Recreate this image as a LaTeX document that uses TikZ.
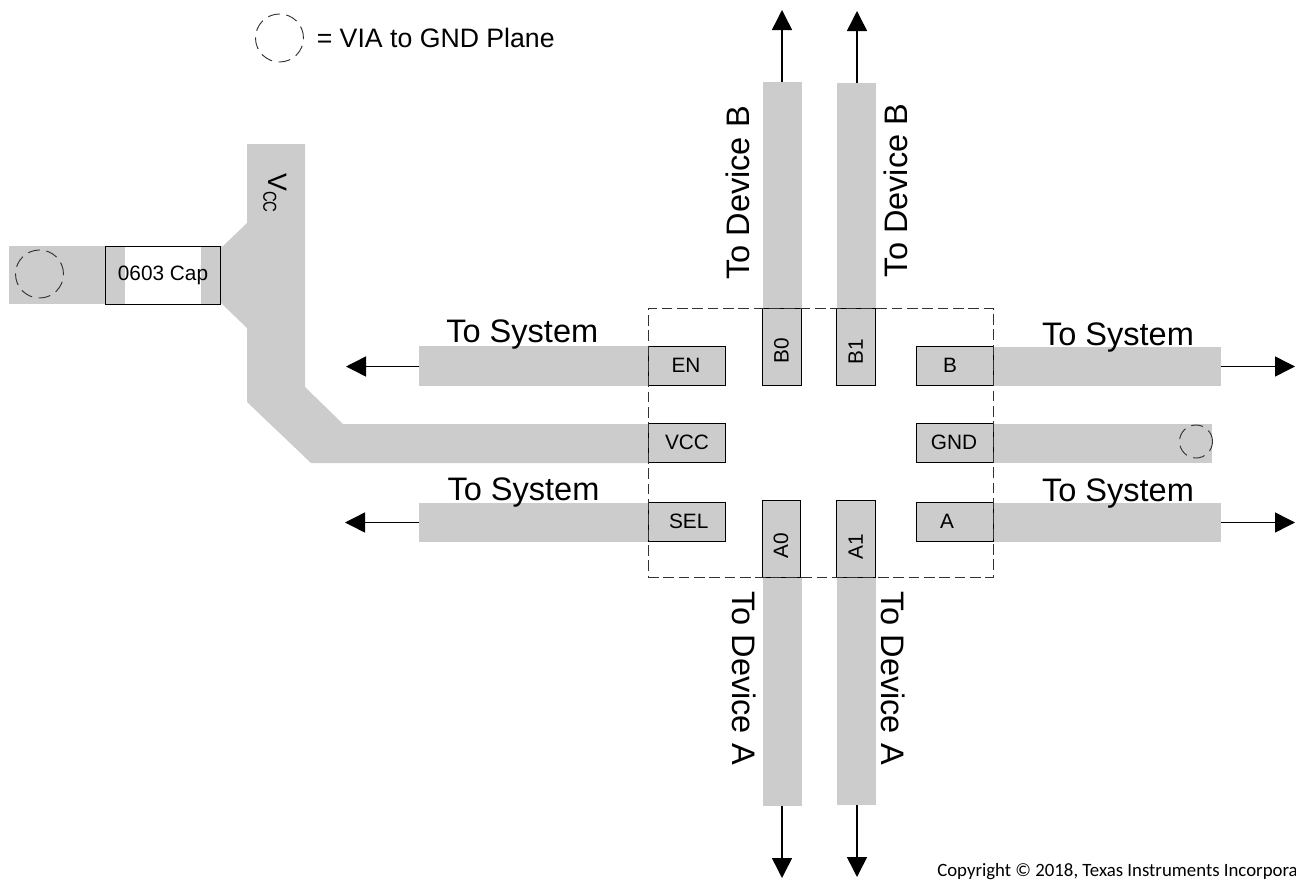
\documentclass[tikz,border=0pt]{standalone}
\usepackage{fontspec}
\setmainfont{Liberation Sans}
\newfontfamily\copyfont{Carlito}
\usetikzlibrary{arrows.meta}
\definecolor{traceGray}{HTML}{CCCCCC}
\def\px{0.75pt}

\tikzset{
	trace/.style={fill=traceGray, inner sep=0pt, outer sep=0pt},
	pinbox/.style={draw=black, line width=0.7pt, fill=traceGray, inner sep=0pt, outer sep=0pt},
	pintext/.style={font=\fontsize{15.6pt}{18pt}\selectfont, inner sep=0pt},
	bigtext/.style={font=\fontsize{24.4pt}{28pt}\selectfont, inner sep=0pt},
	via/.style={circle, draw=black!80, line width=0.7pt, dash pattern=on 9pt off 5pt, inner sep=0pt},
	outflow/.style={draw=black, line width=1.1pt, -{Triangle[length=15pt, width=15pt]}},
}

\begin{document}
\begin{tikzpicture}[x=\px, y=-\px]
	\useasboundingbox (0,0) rectangle (1296,882);

	% supply trace
	\fill [traceGray] (247,144) -- (305,144) -- (305,387) -- (343,424) -- (648,424) -- (648,463)
		-- (311,463) -- (247,402) -- (247,328) -- (221,303) -- (221,246) -- (223,246) -- (247,223) -- cycle;

	% long traces
	\foreach \nm/\xc/\yc/\boxW/\boxH in {trEN/533.5/366/229/40, trSEL/533.5/522.5/229/39,
			trB/1107/366.5/228/39, trA/1107/522.5/228/39, trGND/1102.5/443.5/219/39,
			trBzero/782.5/195.5/39/227, trBone/856.5/196/39/226,
			trAzero/782.5/691.5/39/229, trAone/856.5/691/39/228} {
		\node [trace, minimum width=\boxW*\px, minimum height=\boxH*\px] (\nm) at (\xc,\yc) {};
	}
	\node [trace, minimum width=96*\px, minimum height=58*\px] (trCap) at (57,275) {};

	% capacitor
	\node [fill=white, inner sep=0pt, minimum width=115*\px, minimum height=58*\px] (capBody) at (163,275) {};
	\node [trace, minimum width=19.5*\px, minimum height=58*\px] (padL) at (115.5,275) {};
	\node [trace, minimum width=19.5*\px, minimum height=58*\px] (padR) at (210.5,275) {};
	\node [draw=black, line width=0.7pt, inner sep=0pt, minimum width=115*\px, minimum height=58*\px, pintext] (cap) at (163,275) {0603 Cap};

	% pins
	\foreach \nm/\xc/\yc/\lx in {EN/686.5/366.2/686, VCC/686.5/443.2/687, SEL/686.5/522.2/688.7,
			B/954.5/366.2/950, GND/954.5/443.2/954, A/954.5/522.2/947} {
		\node [pinbox, minimum width=77*\px, minimum height=38.5*\px] (pin\nm) at (\xc,\yc) {};
		\node [pintext] (lbl\nm) at (\lx,\yc-0.5) {\nm};
	}
	\foreach \nm/\xc/\yc/\ly in {B0/782/347.2/351, B1/856.2/347.2/352, A0/781.5/538.5/546, A1/856.2/538.5/547} {
		\node [pinbox, minimum width=38.5*\px, minimum height=77*\px] (pin\nm) at (\xc,\yc) {};
		\node [pintext, rotate=90] (lbl\nm) at (\xc-0.5,\ly) {\nm};
	}

	% package outline
	\node [draw=black!80, line width=0.7pt, dash pattern=on 8pt off 3.5pt, inner sep=0pt,
		minimum width=345.5*\px, minimum height=268.5*\px] (pkg) at (820.75,442.75) {};

	% vias
	\node [via, minimum size=48*\px] (viaKey) at (279.5,38) {};
	\node [via, minimum size=48*\px] (viaCap) at (39.5,274) {};
	\node [via, minimum size=33*\px] (viaGND) at (1196,441.5) {};

	% arrows
	\coordinate (endEN) at (346,366.5);
	\coordinate (endSEL) at (345,522.5);
	\coordinate (endB) at (1295,366.5);
	\coordinate (endA) at (1295,522.5);
	\coordinate (endBzero) at (782,10);
	\coordinate (endBone) at (857,11);
	\coordinate (endAzero) at (782,878);
	\coordinate (endAone) at (857,877);
	\draw [outflow] (trEN.west |- endEN) -- (endEN);
	\draw [outflow] (trSEL.west |- endSEL) -- (endSEL);
	\draw [outflow] (trB.east |- endB) -- (endB);
	\draw [outflow] (trA.east |- endA) -- (endA);
	\draw [outflow] (trBzero.north -| endBzero) -- (endBzero);
	\draw [outflow] (trBone.north -| endBone) -- (endBone);
	\draw [outflow] (trAzero.south -| endAzero) -- (endAzero);
	\draw [outflow] (trAone.south -| endAone) -- (endAone);

	% labels
	\node [bigtext] (sysEN) at (522.3,335) {To System};
	\node [bigtext] (sysSEL) at (523.5,492.5) {To System};
	\node [bigtext] (sysB) at (1118,338) {To System};
	\node [bigtext] (sysA) at (1118,493.5) {To System};
	\node [bigtext, rotate=90] (devBzero) at (738.3,193) {To Device B};
	\node [bigtext, rotate=90] (devBone) at (895.5,190.5) {To Device B};
	\node [bigtext, rotate=-90] (devAzero) at (744.2,678) {To Device A};
	\node [bigtext, rotate=-90] (devAone) at (892.9,678) {To Device A};
	\node [rotate=-90, inner sep=0pt, font=\fontsize{20pt}{24pt}\selectfont] (vccText) at (275,193)
		{V\raisebox{-3.75pt}{\scalebox{0.8}[1]{\fontsize{14pt}{16pt}\selectfont CC}}};
	\node [right, inner sep=0pt, font=\fontsize{20pt}{24pt}\selectfont] (keyText) at (316.5,38) {= VIA to GND Plane};
	\node [right, inner sep=0pt, font=\copyfont\fontsize{14.1pt}{16pt}\selectfont] (copyText) at (937,872) {Copyright © 2018, Texas Instruments Incorpora};
\end{tikzpicture}
\end{document}
